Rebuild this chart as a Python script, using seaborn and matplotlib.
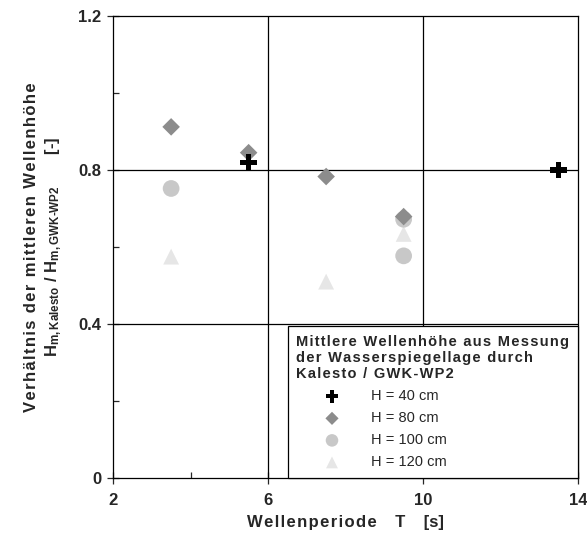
import pandas as pd
import matplotlib
matplotlib.use('Agg')
import matplotlib.pyplot as plt
from matplotlib.ticker import FixedLocator, FixedFormatter
import seaborn as sns

# data
h40_T = [5.5, 13.5]
h40_ratio = [0.82, 0.80]
h80_T = [3.5, 5.5, 7.5, 9.5]
h80_ratio = [0.912, 0.845, 0.783, 0.679]
h100_T = [3.5, 9.5, 9.5]
h100_ratio = [0.752, 0.672, 0.577]
h120_T = [3.5, 7.5, 9.5]
h120_ratio = [0.575, 0.51, 0.634]

labels = ['H = 40 cm', 'H = 80 cm', 'H = 100 cm', 'H = 120 cm']
x_ticks = [2, 6, 10, 14]
y_ticks = [0, 0.4, 0.8, 1.2]
y_ticklabels = ['0', '0.4', '0.8', '1.2']

frames = []
for lab, T, r in zip(labels, [h40_T, h80_T, h100_T, h120_T],
                     [h40_ratio, h80_ratio, h100_ratio, h120_ratio]):
    frames.append(pd.DataFrame({'T': T, 'ratio': r, 'Serie': lab}))
data = pd.concat(frames, ignore_index=True)


def spaced(s):
    # emulate the letter spacing of the original with hair spaces
    return '\u200a'.join(s)


sns.set_style('ticks')
plt.rcParams['font.family'] = ['Liberation Sans', 'DejaVu Sans']
plt.rcParams['mathtext.fontset'] = 'custom'
plt.rcParams['mathtext.rm'] = 'Liberation Sans:bold'
plt.rcParams['mathtext.bf'] = 'Liberation Sans:bold'
plt.rcParams['mathtext.it'] = 'Liberation Sans:bold'

fig = plt.figure(figsize=(5.87, 5.37), dpi=100)
ax = fig.add_axes([0.1925, 0.1099, 0.7922, 0.8603])

# grid lines (only at the labelled inner ticks)
for x in [6, 10]:
    ax.axvline(x, color='black', lw=0.9, zorder=1)
for y in [0.4, 0.8]:
    ax.axhline(y, color='black', lw=0.9, zorder=1)

palette = {'H = 40 cm': 'black', 'H = 80 cm': '#8c8c8c',
           'H = 100 cm': '#c8c8c8', 'H = 120 cm': '#e6e6e6'}
markers = {'H = 40 cm': 'P', 'H = 80 cm': 'D',
           'H = 100 cm': 'o', 'H = 120 cm': '^'}
sizes = {'H = 40 cm': 140, 'H = 80 cm': 80,
         'H = 100 cm': 145, 'H = 120 cm': 130}

# draw in reverse order so the darker markers are on top
for lab in labels[::-1]:
    sub = data[data['Serie'] == lab]
    sns.scatterplot(x='T', y='ratio', data=sub, ax=ax, color=palette[lab],
                    marker=markers[lab], s=sizes[lab], edgecolor='none',
                    label=lab, zorder=3)

ax.set_xlim(2, 14)
ax.set_ylim(0, 1.2)
ax.xaxis.set_major_locator(FixedLocator(x_ticks))
ax.xaxis.set_minor_locator(FixedLocator([4, 8, 12]))
ax.yaxis.set_major_locator(FixedLocator(y_ticks))
ax.yaxis.set_minor_locator(FixedLocator([0.2, 0.6, 1.0]))
ax.yaxis.set_major_formatter(FixedFormatter(y_ticklabels))
ax.tick_params(which='major', direction='inout', length=9, width=0.9,
               labelsize=12, pad=4)
ax.tick_params(axis='x', which='major', pad=6)
ax.tick_params(which='minor', direction='in', length=4, width=0.9)
for lbl in ax.get_xticklabels() + ax.get_yticklabels():
    lbl.set_fontweight('bold')
for sp in ax.spines.values():
    sp.set_color('black')
    sp.set_linewidth(0.9)

ax.set_xlabel(spaced('Wellenperiode') + '    T    [s]', fontsize=12,
              fontweight='bold', labelpad=5)
ax.set_ylabel(spaced('Verhältnis der mittleren Wellenhöhe') + '\n'
              r'$\mathbf{H}_{\mathbf{m,Kalesto}}\ \mathbf{/}\ \mathbf{H}_{\mathbf{m,GWK\text{-}WP2}}$       [-]',
              fontsize=12, fontweight='bold', labelpad=10, linespacing=1.3)

handles, labs = ax.get_legend_handles_labels()
order = [labs.index(l) for l in labels]
leg = ax.legend([handles[i] for i in order], [labs[i] for i in order],
                title=spaced('Mittlere Wellenhöhe aus Messung') + '\n' +
                spaced('der Wasserspiegellage durch') + '\n' +
                spaced('Kalesto / GWK-WP2'),
                loc='lower right', bbox_to_anchor=(1.0, 0.0),
                borderaxespad=0, frameon=True, fancybox=False,
                edgecolor='black', framealpha=1, fontsize=10.5,
                title_fontproperties={'weight': 'bold', 'size': 10.5},
                alignment='left', handlelength=4.9, handletextpad=0.2,
                labelspacing=0.55, borderpad=0.6, markerscale=0.75)
leg.get_frame().set_linewidth(0.9)
leg.set_zorder(5)
for h in leg.legend_handles:
    h.set_edgecolor('none')

plt.savefig('out.png', dpi=100)
